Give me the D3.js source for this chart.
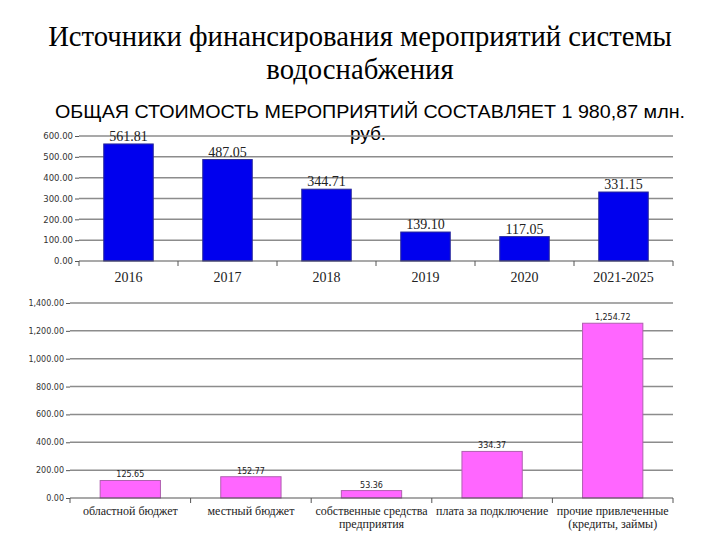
<!DOCTYPE html>
<html><head><meta charset="utf-8">
<script src="https://cdn.jsdelivr.net/npm/d3@7"></script>
<style>body{margin:0;background:#fff}</style></head>
<body><svg id="c" width="720" height="540"></svg>
<script>
const years = ["2016","2017","2018","2019","2020","2021-2025"];
const yearValues = [561.81, 487.05, 344.71, 139.10, 117.05, 331.15];
const yearTicks = [0,100,200,300,400,500,600];
const sources = [["областной бюджет"],["местный бюджет"],["собственные средства","предприятия"],["плата за подключение"],["прочие привлеченные","(кредиты, займы)"]];
const sourceValues = [125.65, 152.77, 53.36, 334.37, 1254.72];
const sourceTicks = [0,200,400,600,800,1000,1200,1400];

const SERIF = "'Liberation Serif','DejaVu Serif','Times New Roman',serif";
const svg = d3.select("#c");
svg.append("text").attr("x",360).attr("y",46).attr("text-anchor","middle")
  .style("font-family",SERIF).style("font-size","28.7px").text("Источники финансирования мероприятий системы");
svg.append("text").attr("x",360).attr("y",79).attr("text-anchor","middle")
  .style("font-family",SERIF).style("font-size","28.7px").text("водоснабжения");
svg.append("text").attr("x",370).attr("y",118).attr("text-anchor","middle")
  .attr("textLength",630).attr("lengthAdjust","spacingAndGlyphs")
  .style("font-family","'Liberation Sans',Arial,sans-serif").style("font-size","19px").text("ОБЩАЯ СТОИМОСТЬ МЕРОПРИЯТИЙ СОСТАВЛЯЕТ 1 980,87 млн.");
svg.append("text").attr("x",368).attr("y",140).attr("text-anchor","middle")
  .style("font-family","'Liberation Sans',Arial,sans-serif").style("font-size","19px").text("руб.");

function chart(cfg){
  const g = svg.append("g");
  const x = d3.scaleBand().domain(cfg.cats.map((d,i)=>i)).range([cfg.x0,cfg.x1]).paddingInner(0.5).paddingOuter(0.25);
  const y = d3.scaleLinear().domain([0,cfg.max]).range([cfg.y0,cfg.y1]);
  g.selectAll(".grid").data(cfg.ticks.slice(1)).join("line")
    .attr("x1",cfg.x0).attr("x2",cfg.x1).attr("y1",d=>y(d)).attr("y2",d=>y(d))
    .attr("stroke","#8c8c8c").attr("stroke-width",1.5);
  const ya = d3.axisLeft(y).tickValues(cfg.ticks).tickSize(4).tickFormat(d3.format(cfg.fmt));
  const yg = g.append("g").attr("transform",`translate(${cfg.x0},0)`).call(ya);
  yg.select(".domain").attr("stroke","none");
  yg.selectAll(".tick line").attr("stroke","#555");
  yg.selectAll(".tick text").style("font-family","'DejaVu Sans',Verdana,sans-serif").style("font-size",cfg.tickSize).attr("fill","#333").attr("x",-6);
  g.selectAll(".bar").data(cfg.vals).join("rect")
    .attr("x",(d,i)=>x(i)).attr("width",x.bandwidth())
    .attr("y",d=>y(d)).attr("height",d=>cfg.y0-y(d))
    .attr("fill",cfg.fill).attr("stroke",cfg.stroke).attr("stroke-width",1);
  const step = (cfg.x1-cfg.x0)/cfg.cats.length;
  g.append("line").attr("x1",cfg.x0).attr("x2",cfg.x1).attr("y1",cfg.y0).attr("y2",cfg.y0).attr("stroke","#555").attr("stroke-width",1.2);
  g.selectAll(".xt").data(d3.range(cfg.cats.length+1)).join("line")
    .attr("x1",d=>cfg.x0+d*step).attr("x2",d=>cfg.x0+d*step).attr("y1",cfg.y0).attr("y2",cfg.y0+5).attr("stroke","#555");
  cfg.cats.forEach((c,i)=>{
    c.forEach((l,j)=>{
      g.append("text").attr("x",x(i)+x.bandwidth()/2).attr("y",cfg.y0+cfg.catDy+j*cfg.lineH).attr("text-anchor","middle")
        .style("font-family",SERIF).style("font-size",cfg.catSize).attr("fill","#222").text(l);
    });
  });
  g.selectAll(".vl").data(cfg.vals).join("text")
    .attr("x",(d,i)=>x(i)+x.bandwidth()/2).attr("y",d=>y(d)-3).attr("text-anchor","middle")
    .style("font-family",cfg.valFont).style("font-size",cfg.valSize).attr("fill","#222")
    .text(d=>d3.format(cfg.fmt)(d));
}
chart({cats:years.map(d=>[d]), vals:yearValues, ticks:yearTicks, max:600, x0:79, x1:673, y0:261, y1:136,
  fill:"#0000ee", stroke:"#2a2a9a", fmt:".2f", catDy:21, lineH:13, catSize:"14px", tickSize:"8.5px", valFont:SERIF, valSize:"14px"});
chart({cats:sources, vals:sourceValues, ticks:sourceTicks, max:1400, x0:70, x1:673, y0:498, y1:303,
  fill:"#ff66ff", stroke:"#b060b0", fmt:",.2f", catDy:17, lineH:13, catSize:"12px", tickSize:"8px", valFont:"'DejaVu Sans',Verdana,sans-serif", valSize:"8px"});
</script></body></html>
